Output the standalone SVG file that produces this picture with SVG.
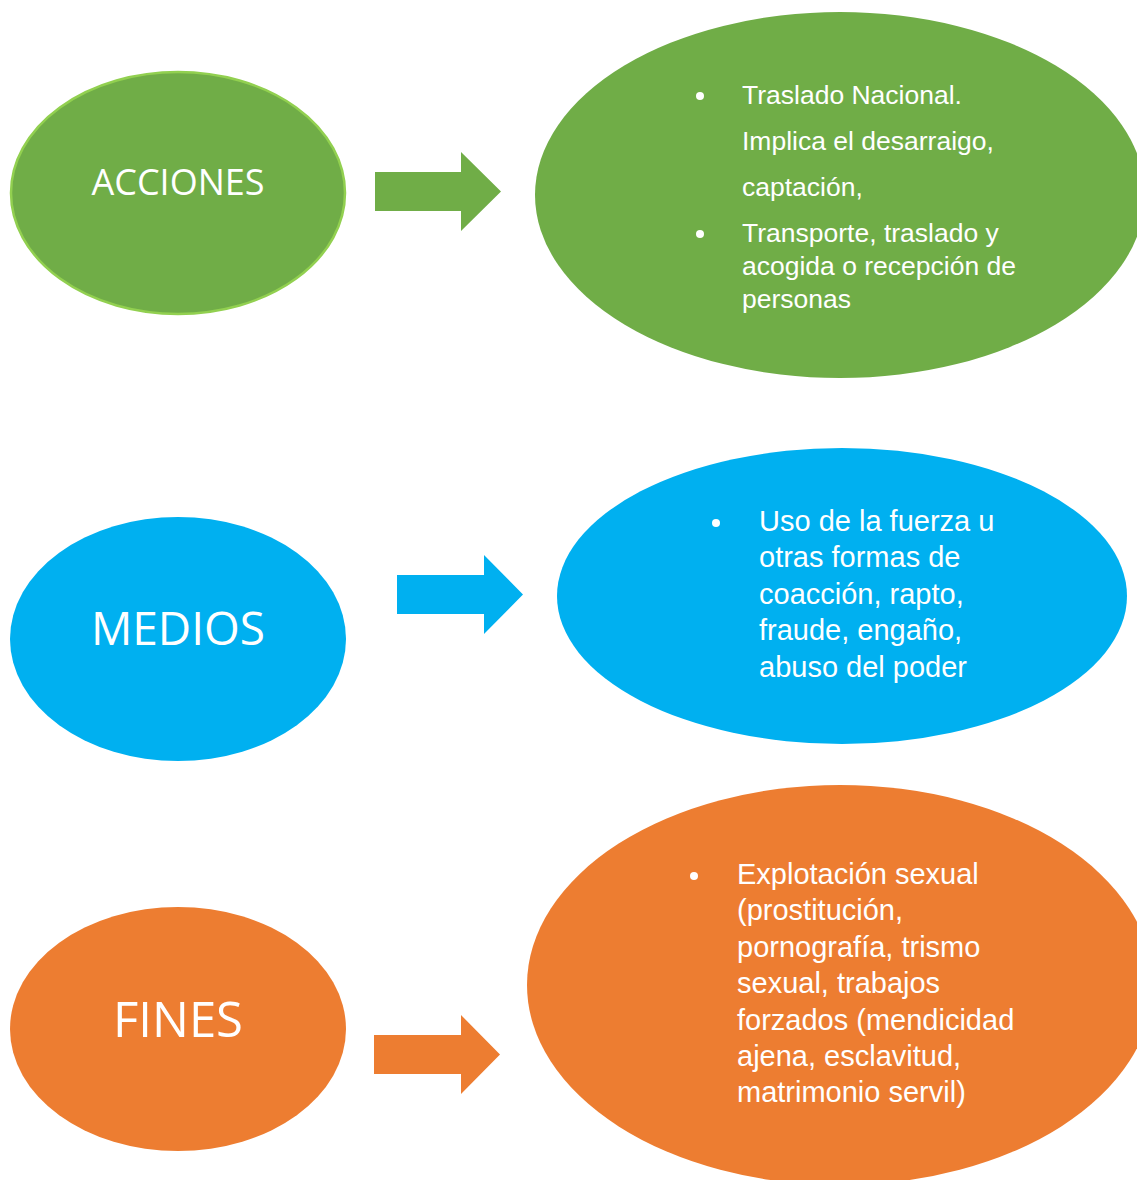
<svg xmlns="http://www.w3.org/2000/svg" width="1137" height="1180" viewBox="0 0 1137 1180">
<style>
.lbl{font-family:"Open Sans","Liberation Sans",sans-serif;fill:#fff;text-anchor:middle}
.body{font-family:"Liberation Sans",Arial,sans-serif;fill:#fff}
.g{fill:#70AD47}.b{fill:#00B0F0}.o{fill:#ED7D31}
</style>
<rect width="1137" height="1180" fill="#fff"/>
<g id="acciones">
<ellipse cx="178" cy="193" rx="167" ry="121" class="g" stroke="#92D050" stroke-width="2.5"/>
<text class="lbl" x="178" y="195" font-size="36">ACCIONES</text>
</g>
<g id="acciones-detalle">
<ellipse cx="840" cy="195" rx="305" ry="183" class="g"/>
<g class="body" font-size="26.5">
<circle cx="700" cy="96" r="4" fill="#fff"/>
<circle cx="700" cy="234" r="4" fill="#fff"/>
<text x="742" y="104">Traslado Nacional.</text>
<text x="742" y="150">Implica el desarraigo,</text>
<text x="742" y="196">captación,</text>
<text x="742" y="242">Transporte, traslado y</text>
<text x="742" y="275">acogida o recepción de</text>
<text x="742" y="308">personas</text>
</g>
</g>
<g id="medios">
<ellipse cx="178" cy="639" rx="168" ry="122" class="b"/>
<text class="lbl" x="178" y="645" font-size="46">MEDIOS</text>
</g>
<g id="medios-detalle">
<ellipse cx="842" cy="596" rx="285" ry="148" class="b"/>
<g class="body" font-size="29">
<circle cx="716" cy="523" r="4" fill="#fff"/>
<text x="759" y="531">Uso de la fuerza u</text>
<text x="759" y="567">otras formas de</text>
<text x="759" y="604">coacción, rapto,</text>
<text x="759" y="640">fraude, engaño,</text>
<text x="759" y="677">abuso del poder</text>
</g>
</g>
<g id="fines">
<ellipse cx="178" cy="1029" rx="168" ry="122" class="o"/>
<text class="lbl" x="178" y="1037" font-size="49">FINES</text>
</g>
<g id="fines-detalle">
<ellipse cx="840" cy="985" rx="313" ry="200" class="o"/>
<g class="body" font-size="29">
<circle cx="694" cy="876" r="4" fill="#fff"/>
<text x="737" y="884">Explotación sexual</text>
<text x="737" y="920">(prostitución,</text>
<text x="737" y="957">pornografía, trismo</text>
<text x="737" y="993">sexual, trabajos</text>
<text x="737" y="1030">forzados (mendicidad</text>
<text x="737" y="1066">ajena, esclavitud,</text>
<text x="737" y="1102">matrimonio servil)</text>
</g>
</g>
<g id="connectors">
<polygon class="g" points="375,172 461,172 461,152 501,191.5 461,231 461,211 375,211"/>
<polygon class="b" points="397,575 484,575 484,555 523,594.5 484,634 484,614 397,614"/>
<polygon class="o" points="374,1035 461,1035 461,1015 500,1054.5 461,1094 461,1074 374,1074"/>
</g>
</svg>
